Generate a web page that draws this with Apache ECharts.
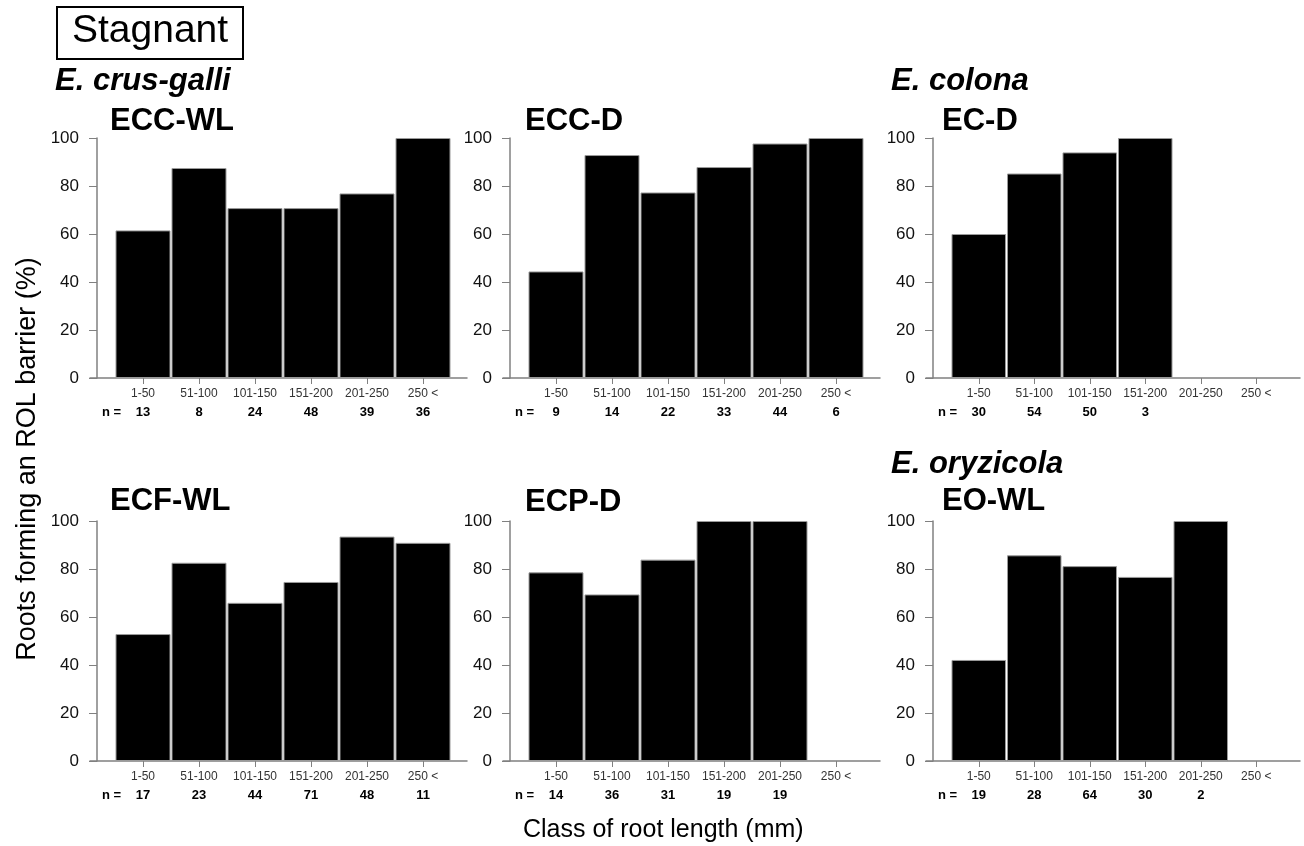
<!DOCTYPE html>
<html>
<head>
<meta charset="utf-8">
<script src="https://cdn.jsdelivr.net/npm/echarts@6/dist/echarts.min.js"></script>
<style>
  html, body { margin: 0; padding: 0; background: #fff; }
  #chart { width: 1304px; height: 846px; }
</style>
</head>
<body>
<div id="chart"></div>
<script>
// root length classes
var cats = ['1-50', '51-100', '101-150', '151-200', '201-250', '250 <'];

// % roots forming an ROL barrier, and n per class
var eccWL = [61.5, 87.5, 70.8, 70.8, 76.9, 100];
var eccWLn = [13, 8, 24, 48, 39, 36];
var eccD = [44.4, 92.9, 77.3, 87.9, 97.7, 100];
var eccDn = [9, 14, 22, 33, 44, 6];
var ecD = [60.0, 85.2, 94.0, 100, null, null];
var ecDn = [30, 54, 50, 3, null, null];
var ecfWL = [52.9, 82.6, 65.9, 74.6, 93.5, 90.9];
var ecfWLn = [17, 23, 44, 71, 48, 11];
var ecpD = [78.6, 69.4, 83.9, 100, 100, null];
var ecpDn = [14, 36, 31, 19, 19, null];
var eoWL = [42.1, 85.7, 81.2, 76.7, 100, null];
var eoWLn = [19, 28, 64, 30, 2, null];

var yTicks = [0, 20, 40, 60, 80, 100];

var FONT = '"Liberation Sans", Arial, sans-serif';

// yx = x of the y axis line, top = y of 100, cw = width of one class
var panels = [
    {name: 'ECC-WL', vals: eccWL, n: eccWLn, yx: 97, top: 138, cw: 56, tx: 110, ty: 106},
    {name: 'ECC-D', vals: eccD, n: eccDn, yx: 510, top: 138, cw: 56, tx: 525, ty: 106},
    {name: 'EC-D', vals: ecD, n: ecDn, yx: 933, top: 138, cw: 55.5, tx: 942, ty: 106},
    {name: 'ECF-WL', vals: ecfWL, n: ecfWLn, yx: 97, top: 521, cw: 56, tx: 110, ty: 486},
    {name: 'ECP-D', vals: ecpD, n: ecpDn, yx: 510, top: 521, cw: 56, tx: 525, ty: 487},
    {name: 'EO-WL', vals: eoWL, n: eoWLn, yx: 933, top: 521, cw: 55.5, tx: 942, ty: 486}
];

var grids = [], xAxes = [], yAxes = [], series = [];
var titles = [
    {text: 'Stagnant', left: 57, top: 7, borderColor: '#000', borderWidth: 2, padding: [4, 15, 8, 15],
        textStyle: {fontFamily: FONT, fontSize: 39, fontWeight: 'normal', lineHeight: 40, color: '#000'}},
    {text: 'E. crus-galli', left: 55, top: 66, padding: 0,
        textStyle: {fontFamily: FONT, fontSize: 31, fontWeight: 'bold', fontStyle: 'italic', lineHeight: 30, color: '#000'}},
    {text: 'E. colona', left: 891, top: 66, padding: 0,
        textStyle: {fontFamily: FONT, fontSize: 31, fontWeight: 'bold', fontStyle: 'italic', lineHeight: 30, color: '#000'}},
    {text: 'E. oryzicola', left: 891, top: 449, padding: 0,
        textStyle: {fontFamily: FONT, fontSize: 31, fontWeight: 'bold', fontStyle: 'italic', lineHeight: 30, color: '#000'}}
];

panels.forEach(function (p, k) {
    var cw = p.cw;
    grids.push({left: p.yx - 7, top: p.top, width: 41 + 6 * cw, height: 240});
    titles.push({text: p.name, left: p.tx, top: p.ty, padding: 0,
        textStyle: {fontFamily: FONT, fontSize: 31, fontWeight: 'bold', lineHeight: 30, color: '#000'}});
    // "n =" in front of the sample sizes
    titles.push({text: 'n =', left: p.yx + 5, top: p.top + 240 + 28, padding: 0,
        textStyle: {fontFamily: FONT, fontSize: 13, fontWeight: 'bold', lineHeight: 13, color: '#000'}});
    var idx = [0, 1, 2, 3, 4, 5];
    xAxes.push({
        type: 'value', gridIndex: k,
        min: -0.5 - 25 / cw, max: 5.5 + 16 / cw,
        splitLine: {show: false},
        axisLine: {show: true, onZero: false, lineStyle: {color: '#808080', width: 1.5}},
        axisTick: {show: true, customValues: idx, length: 6, lineStyle: {color: '#808080'}},
        axisLabel: {
            show: true, customValues: idx, margin: 6,
            showMinLabel: true, showMaxLabel: true, hideOverlap: false,
            formatter: function (v) {
                var i = Math.round(v);
                var nv = p.n[i] == null ? ' ' : p.n[i];
                return '{c|' + cats[i] + '}\n{n|' + nv + '}';
            },
            rich: {
                c: {fontFamily: FONT, fontSize: 12, color: '#333', lineHeight: 19},
                n: {fontFamily: FONT, fontSize: 13, fontWeight: 'bold', color: '#000', lineHeight: 19}
            }
        }
    });
    yAxes.push({
        type: 'value', gridIndex: k, min: 0, max: 100, interval: 20, offset: -7,
        splitLine: {show: false},
        axisLine: {show: true, onZero: false, lineStyle: {color: '#808080', width: 1.5}},
        axisTick: {show: true, length: 8, lineStyle: {color: '#808080'}},
        axisLabel: {fontFamily: FONT, fontSize: 17, color: '#111', margin: 18,
            customValues: yTicks}
    });
    var data = [];
    p.vals.forEach(function (v, i) {
        if (v != null) data.push([i, v]);
    });
    series.push({
        type: 'bar', xAxisIndex: k, yAxisIndex: k,
        data: data, barWidth: cw - 1,
        itemStyle: {color: '#000', borderColor: '#9a9a9a', borderWidth: 1},
        silent: true, animation: false
    });
});

var chart = echarts.init(document.getElementById('chart'));
chart.setOption({
    animation: false,
    backgroundColor: '#fff',
    textStyle: {fontFamily: FONT},
    title: titles,
    grid: grids,
    xAxis: xAxes,
    yAxis: yAxes,
    series: series,
    graphic: [
        {type: 'text', x: 28, y: 459, rotation: Math.PI / 2,
            style: {text: 'Roots forming an ROL barrier (%)', fontFamily: FONT, fontSize: 27,
                fill: '#000', align: 'center', verticalAlign: 'middle'}},
        {type: 'text', x: 523, y: 830,
            style: {text: 'Class of root length (mm)', fontFamily: FONT, fontSize: 25,
                fill: '#000', align: 'left', verticalAlign: 'middle'}}
    ]
});
</script>
</body>
</html>
